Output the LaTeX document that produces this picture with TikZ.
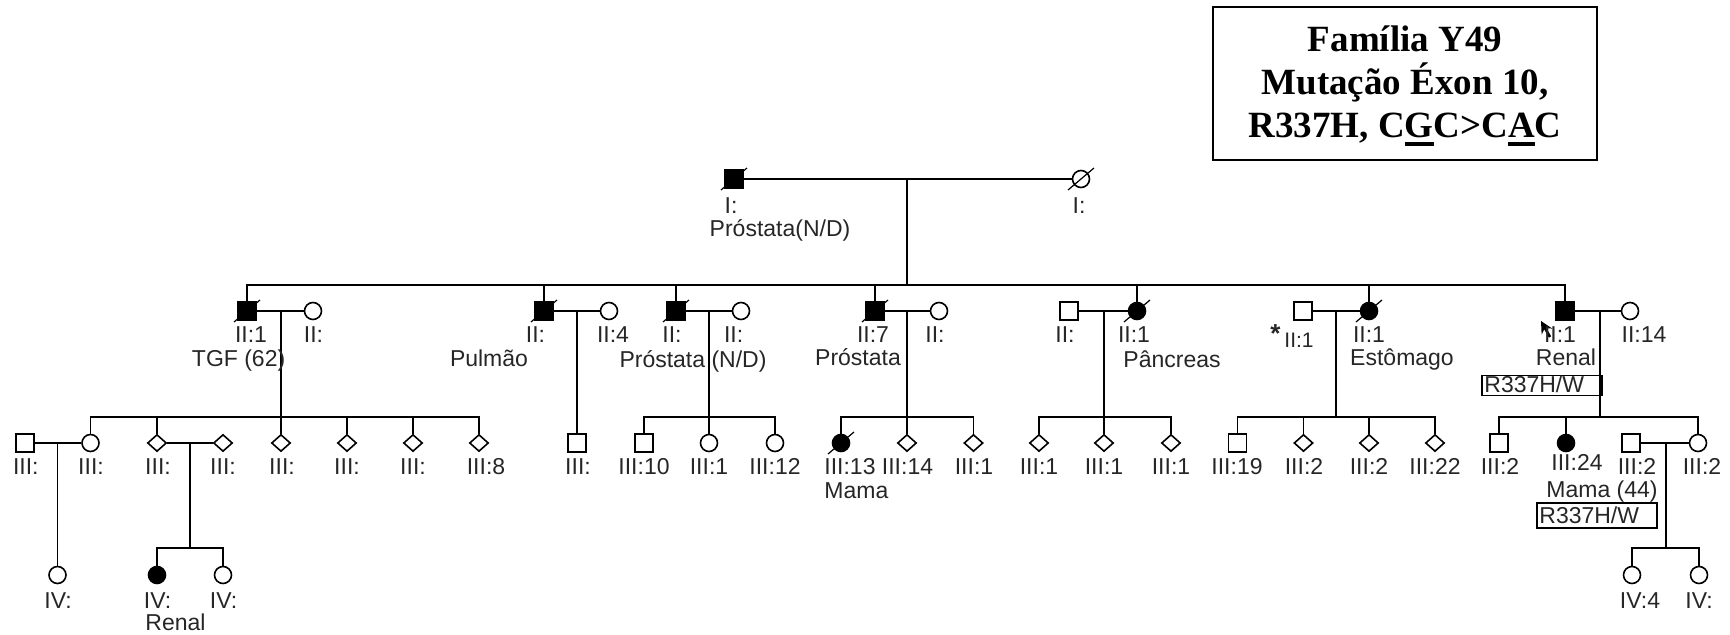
\documentclass[tikz,border=0pt]{standalone}
\usepackage{fontspec}
\setmainfont{Liberation Sans}
\newfontfamily\titlefont{Liberation Serif}
\usetikzlibrary{shapes.geometric,arrows.meta}
\newcommand\thul[1]{\setbox0\hbox{#1}\rlap{\rule[-4.3pt]{\wd0}{1.8pt}}\box0}
\newcommand\dead[1]{\draw[line width=0.6pt] ([shift={(-13,11)}]#1.center) -- ([shift={(13,-11)}]#1.center);}
\tikzset{
 sym/.style={draw, line width=0.8pt, inner sep=0pt, fill=white},
 msym/.style={sym, rectangle, minimum size=9pt},
 fsym/.style={sym, circle, minimum size=8.5pt},
 usym/.style={sym, diamond, minimum width=9.5pt, minimum height=8.5pt},
 aff/.style={fill=black},
 lab/.style={inner sep=0pt, anchor=base, font=\fontsize{11.5}{13}\selectfont, text=black!85},
 labw/.style={lab, anchor=base west},
 ln/.style={line width=0.9pt},
 gbox/.style={draw, line width=0.6pt, inner sep=0pt},
}
\begin{document}
\begin{tikzpicture}[x=0.5pt,y=-0.5pt]
\useasboundingbox (0,0) rectangle (1730,635);
% title
\node[draw, line width=1pt, minimum width=192pt, minimum height=76.5pt, inner sep=0pt] (tbox) at (1405,83.5) {};
\node[font=\titlefont\bfseries\fontsize{18.5}{21.3}\selectfont, align=center, inner sep=0pt] (title) at (1405,86) {Família Y49\\Mutação Éxon 10,\\R337H, C\thul{G}C>C\thul{A}C};
% Generation I
\node[msym,aff] (I1) at (734,179) {};
\node[fsym] (I2) at (1081,179) {};
% Generation II
\node[msym,aff] (A1) at (247,311) {};
\node[fsym] (A2) at (313,311) {};
\node[msym,aff] (B1) at (544,311) {};
\node[fsym] (B2) at (609,311) {};
\node[msym,aff] (C1) at (676,311) {};
\node[fsym] (C2) at (741,311) {};
\node[msym,aff] (D1) at (875,311) {};
\node[fsym] (D2) at (939,311) {};
\node[msym] (E1) at (1069,311) {};
\node[fsym,aff] (E2) at (1137,311) {};
\node[msym] (F1) at (1303,311) {};
\node[fsym,aff] (F2) at (1369,311) {};
\node[msym,aff] (G1) at (1565,311) {};
\node[fsym] (G2) at (1630,311) {};
% Generation III
\node[msym] (Ak0) at (25,443) {};
\node[fsym] (Ak1) at (90.5,443) {};
\node[usym] (Ak2) at (157,443) {};
\node[usym] (Ak2s) at (223,443) {};
\node[usym] (Ak3) at (281,443) {};
\node[usym] (Ak4) at (347,443) {};
\node[usym] (Ak5) at (413,443) {};
\node[usym] (Ak6) at (479,443) {};
\node[msym] (Bk) at (577,443) {};
\node[msym] (Ck1) at (644,443) {};
\node[fsym] (Ck2) at (709,443) {};
\node[fsym] (Ck3) at (775,443) {};
\node[fsym,aff] (Dk1) at (841,443) {};
\node[usym] (Dk2) at (907,443) {};
\node[usym] (Dk3) at (973.5,443) {};
\node[usym] (Ek1) at (1039,443) {};
\node[usym] (Ek2) at (1104,443) {};
\node[usym] (Ek3) at (1171,443) {};
\node[msym] (Fk1) at (1237.5,443) {};
\node[usym] (Fk2) at (1303.5,443) {};
\node[usym] (Fk3) at (1369,443) {};
\node[usym] (Fk4) at (1435,443) {};
\node[msym] (Gk1) at (1499,443) {};
\node[fsym,aff] (Gk2) at (1566,443) {};
\node[msym] (Gk3s) at (1631,443) {};
\node[fsym] (Gk3) at (1698,443) {};
% Generation IV
\node[fsym] (Va) at (57.5,575) {};
\node[fsym,aff] (Vb1) at (157,575) {};
\node[fsym] (Vb2) at (223,575) {};
\node[fsym] (Vg1) at (1632,575) {};
\node[fsym] (Vg2) at (1699,575) {};
% connectors gen I
\draw[ln] (I1) -- (I2);
\coordinate (mI) at (907,179); \coordinate (jI) at (907,285);
\draw[ln] (mI) -- (jI);
\foreach \k in {A1,B1,C1,D1,E2,F2,G1} \draw[ln] (jI) -| (\k);
% marriages gen II
\foreach \a/\b in {A1/A2,B1/B2,C1/C2,D1/D2,E1/E2,F1/F2,G1/G2} \draw[ln] (\a) -- (\b);
% children of gen II
\coordinate (mA) at (281,311); \coordinate (jA) at (281,417);
\draw[ln] (mA) -- (jA);
\foreach \k in {Ak1,Ak2,Ak3,Ak4,Ak5,Ak6} \draw[ln] (jA) -| (\k);
\coordinate (mB) at (577,311);
\draw[ln] (mB) -- (Bk);
\coordinate (mC) at (709,311); \coordinate (jC) at (709,417);
\draw[ln] (mC) -- (jC);
\foreach \k in {Ck1,Ck2,Ck3} \draw[ln] (jC) -| (\k);
\coordinate (mD) at (907,311); \coordinate (jD) at (907,417);
\draw[ln] (mD) -- (jD);
\foreach \k in {Dk1,Dk2,Dk3} \draw[ln] (jD) -| (\k);
\coordinate (mE) at (1104,311); \coordinate (jE) at (1104,417);
\draw[ln] (mE) -- (jE);
\foreach \k in {Ek1,Ek2,Ek3} \draw[ln] (jE) -| (\k);
\coordinate (mF) at (1336,311); \coordinate (jF) at (1336,417);
\draw[ln] (mF) -- (jF);
\foreach \k in {Fk1,Fk2,Fk3,Fk4} \draw[ln] (jF) -| (\k);
\coordinate (mG) at (1600,311); \coordinate (jG) at (1600,417);
\draw[ln] (mG) -- (jG);
\foreach \k in {Gk1,Gk2,Gk3} \draw[ln] (jG) -| (\k);
% gen III marriages and children
\foreach \a/\b in {Ak0/Ak1,Ak2/Ak2s,Gk3s/Gk3} \draw[ln] (\a) -- (\b);
\coordinate (mAa) at (57.5,443);
\draw[ln] (mAa) -- (Va);
\coordinate (mAb) at (190,443); \coordinate (jAb) at (190,548);
\draw[ln] (mAb) -- (jAb);
\foreach \k in {Vb1,Vb2} \draw[ln] (jAb) -| (\k);
\coordinate (mGg) at (1666,443); \coordinate (jGg) at (1666,548);
\draw[ln] (mGg) -- (jGg);
\foreach \k in {Vg1,Vg2} \draw[ln] (jGg) -| (\k);
% deceased
\dead{I1}\dead{I2}\dead{A1}\dead{B1}\dead{C1}\dead{D1}\dead{E2}\dead{F2}\dead{Dk1}
% proband arrow
\coordinate (pt) at (1550,337); \coordinate (ph) at (1541,321);
\draw[line width=1.3pt, -{Stealth[length=6pt,width=6pt]}] (pt) -- (ph);
% labels gen I
\node[lab] (lI1) at (731,214) {I:};
\node[lab] (lI1b) at (780,237) {Próstata(N/D)};
\node[lab] (lI2) at (1079,214) {I:};
% labels gen II
\node[lab] (lA1) at (251,343) {II:1};
\node[lab] (lA1b) at (238.6,367) {TGF (62)};
\node[lab] (lA2) at (313.5,343) {II:};
\node[lab] (lB1) at (535.5,343) {II:};
\node[lab] (lB1b) at (489,367) {Pulmão};
\node[lab] (lB2) at (613,343) {II:4};
\node[lab] (lC1) at (672,343) {II:};
\node[lab] (lC2) at (733.6,343) {II:};
\node[lab] (lC1b) at (693,368) {Próstata (N/D)};
\node[lab] (lD1) at (873,343) {II:7};
\node[lab] (lD2) at (935,343) {II:};
\node[lab] (lD1b) at (858,366) {Próstata};
\node[lab] (lE1) at (1065,343) {II:};
\node[lab] (lE2) at (1134,343) {II:1};
\node[lab] (lE2b) at (1172,368) {Pâncreas};
\node[labw, font=\fontsize{13}{14}\selectfont\bfseries] (lF1s) at (1270,343) {*};
\node[labw, font=\fontsize{10.5}{12}\selectfont] (lF1) at (1284,348) {II:1};
\node[lab] (lF2) at (1369,343) {II:1};
\node[lab] (lF2b) at (1402,366) {Estômago};
\node[lab] (lG1) at (1560,343) {II:1};
\node[lab] (lG2) at (1644,343) {II:14};
\node[lab] (lG1b) at (1566,366) {Renal};
\node[gbox, minimum width=60pt, minimum height=10pt] (gG1) at (1542,385.5) {};
\node[labw] (tG1) at (1484,393) {R337H/W};
% labels gen III
\node[lab] (lAk0) at (25.8,475) {III:};
\node[lab] (lAk1) at (91,475) {III:};
\node[lab] (lAk2) at (158,475) {III:};
\node[lab] (lAk2s) at (223,475) {III:};
\node[lab] (lAk3) at (282,475) {III:};
\node[lab] (lAk4) at (347,475) {III:};
\node[lab] (lAk5) at (413,475) {III:};
\node[lab] (lAk6) at (486,475) {III:8};
\node[lab] (lBk) at (578,475) {III:};
\node[lab] (lCk1) at (644,475) {III:10};
\node[lab] (lCk2) at (709,475) {III:1};
\node[lab] (lCk3) at (775,475) {III:12};
\node[labw] (lDk1) at (824,475) {III:13};
\node[labw] (lDk1b) at (824,499) {Mama};
\node[lab] (lDk2) at (907.5,475) {III:14};
\node[lab] (lDk3) at (974,475) {III:1};
\node[lab] (lEk1) at (1039,475) {III:1};
\node[lab] (lEk2) at (1104,475) {III:1};
\node[lab] (lEk3) at (1171,475) {III:1};
\node[lab] (lFk1) at (1237,475) {III:19};
\node[lab] (lFk2) at (1304,475) {III:2};
\node[lab] (lFk3) at (1369,475) {III:2};
\node[lab] (lFk4) at (1435,475) {III:22};
\node[lab] (lGk1) at (1500,475) {III:2};
\node[lab] (lGk2) at (1577,471) {III:24};
\node[lab] (lGk2b) at (1602,498) {Mama (44)};
\node[gbox, minimum width=60pt, minimum height=12.5pt] (gGk2) at (1597,515.5) {};
\node[labw] (tGk2) at (1539,524) {R337H/W};
\node[lab] (lGk3s) at (1637,475) {III:2};
\node[lab] (lGk3) at (1702,475) {III:2};
% labels gen IV
\node[lab] (lVa) at (58,609) {IV:};
\node[lab] (lVb1) at (157.5,609) {IV:};
\node[labw] (lVb1b) at (145,631) {Renal};
\node[lab] (lVb2) at (223.5,609) {IV:};
\node[lab] (lVg1) at (1640,609) {IV:4};
\node[lab] (lVg2) at (1699,609) {IV:};
\end{tikzpicture}
\end{document}
